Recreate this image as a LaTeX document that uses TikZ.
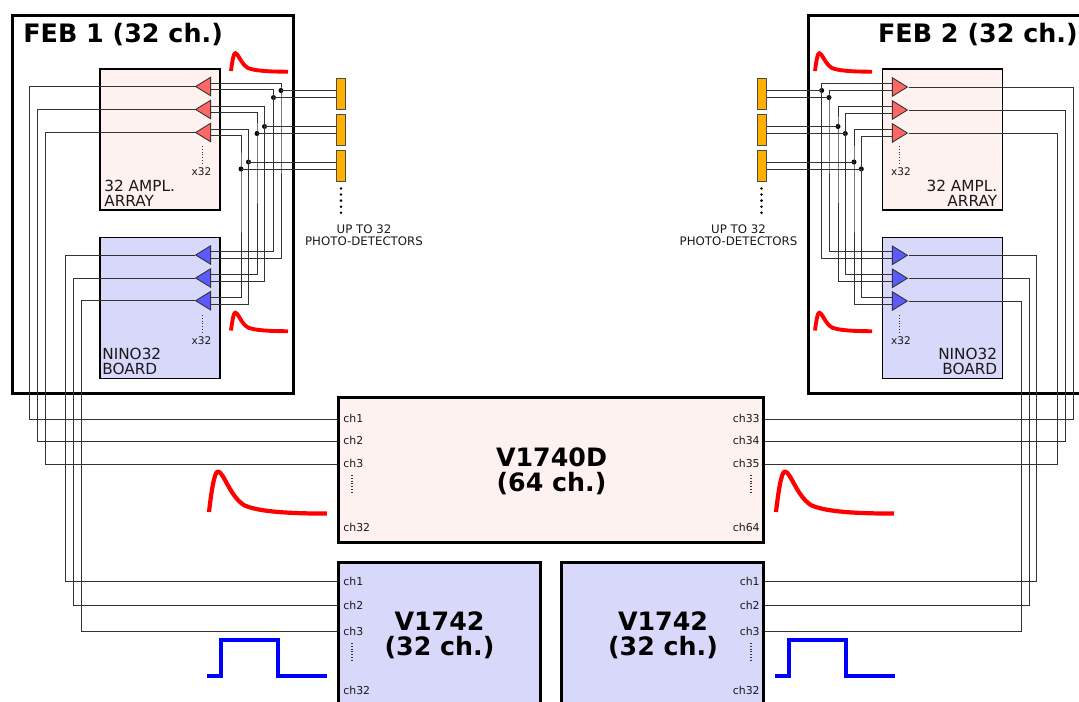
\documentclass[tikz,border=0pt]{standalone}
\usepackage{fontspec}
\setmainfont{DejaVu Sans}
\usepackage{xcolor}
\usetikzlibrary{positioning, shapes.geometric, calc}
\definecolor{ampfill}{HTML}{FDF2F0}
\definecolor{ninofill}{HTML}{D8D8FA}
\definecolor{ampred}{HTML}{FF6666}
\definecolor{ampblue}{HTML}{5A5AFF}
\definecolor{detorange}{HTML}{FFB000}
\tikzset{
  febbox/.style={draw=black, line width=1.7pt, inner sep=0pt, minimum width=#1},
  boardbox/.style={draw=black, line width=0.8pt, inner sep=0pt, minimum width=2.4cm, minimum height=2.82cm},
  digibox/.style={draw=black, line width=1.7pt, inner sep=0pt},
  amptri/.style={isosceles triangle, isosceles triangle stretches, draw=black!80, line width=0.5pt,
    inner sep=0pt, minimum width=0.37cm, minimum height=0.3cm, anchor=apex},
  detbox/.style={draw=black!70, fill=detorange, line width=0.5pt, inner sep=0pt, minimum width=0.19cm, minimum height=0.62cm},
  wire/.style={draw=black!80, line width=0.55pt},
  joint/.style={circle, fill=black, inner sep=0pt, minimum size=0.1cm},
  febtext/.style={font=\fontsize{14.45}{15}\selectfont\bfseries, inner sep=0pt},
  digitext/.style={font=\fontsize{14.4}{14.2}\selectfont\bfseries, align=center, inner sep=0pt},
  boardtext/.style={font=\fontsize{8.7}{8.6}\selectfont, inner sep=0pt, text=black!90},
  smalltext/.style={font=\fontsize{6}{6.5}\selectfont, inner sep=0pt, text=black!90},
  chtext/.style={font=\fontsize{6.2}{6}\selectfont, inner sep=0pt, text=black!90},
  updots/.style={black!80, line width=0.6pt, dash pattern=on 0.6pt off 1pt},
  detdots/.style={black, line width=1.6pt, line cap=round, dash pattern=on 0pt off 3.45pt},
  redpulse/.style={draw=red, line width=#1, line join=round},
  bluepulse/.style={draw=blue, line width=2.2pt}
}
\newcommand{\pulsepath}{(0,0) .. controls (1,-8) and (2.5,-18) .. (4.3,-18) .. controls (7,-18) and (10,-7) .. (17,-3) .. controls (23,-0.5) and (35,0.7) .. (57,0.7)}
\begin{document}
\begin{tikzpicture}[x=0.02cm, y=-0.02cm]
  \useasboundingbox (0,0) rectangle (1079,702);
  % front-end boards
  \node[febbox=5.64cm, minimum height=7.56cm] (FEBa) at (153,204.5) {};
  \node[febbox=5.8cm, minimum height=7.56cm] (FEBb) at (953,204.5) {};
  \node[febtext, anchor=west] (FEBatxt) at (23,34.5) {FEB 1 (32 ch.)};
  \node[febtext, anchor=east] (FEBbtxt) at (1078,34.5) {FEB 2 (32 ch.)};
  % amplifier and NINO boards
  \node[boardbox, fill=ampfill] (AMPa) at (160,139.5) {};
  \node[boardbox, fill=ninofill] (NINOa) at (160,308) {};
  \node[boardbox, fill=ampfill] (AMPb) at (942.3,139.5) {};
  \node[boardbox, fill=ninofill] (NINOb) at (942.3,308) {};
  % digitizers
  \node[digibox, fill=ampfill, minimum width=8.52cm, minimum height=2.92cm] (VA) at (551,470) {};
  \node[digibox, fill=ninofill, minimum width=4.06cm, minimum height=3.2cm] (VBa) at (439.5,642) {};
  \node[digibox, fill=ninofill, minimum width=4.06cm, minimum height=3.2cm] (VBb) at (662.5,642) {};
  \node[digitext] (VAtxt) at (551.5,471) {V1740D\\(64 ch.)};
  \node[digitext] (VBatxt) at (439.5,635) {V1742\\(32 ch.)};
  \node[digitext] (VBbtxt) at (663,635) {V1742\\(32 ch.)};
  % left channels: n/amp y/nino y/amp x/nino x/V1740 y/V1742 y/upper x/lower x/det y
  \foreach \n/\ya/\yn/\xa/\xn/\yv/\yw/\xu/\xl/\yd in {
      1/86.5/255/29.5/65.5/419/581/281/273.5/94,
      2/109.5/278/37/73/441.5/605/264.5/257/130,
      3/132.5/300.7/45/81/464/631/248.5/241/165.5} {
    \node[detbox] (Da\n) at (340.8,\yd) {};
    \node[joint] (Ju\n) at (\xu,\yd-3.5) {};
    \node[joint] (Jl\n) at (\xl,\yd+3.5) {};
    \coordinate (Wa\n) at (\xa,\yv);
    \coordinate (Wn\n) at (\xn,\yw);
    \coordinate (Ca\n) at (VA.west |- Wa\n);
    \coordinate (Cn\n) at (VBa.west |- Wn\n);
    \draw[wire] (209.5,\ya-3.2) -| (Ju\n.center) |- (209.5,\yn+3.5);
    \draw[wire] (209.5,\ya+3.4) -| (Jl\n.center) |- (209.5,\yn-3.5);
    \draw[wire] (Ju\n.center) -- (Da\n.west |- Ju\n);
    \draw[wire] (Jl\n.center) -- (Da\n.west |- Jl\n);
    \node[amptri, fill=ampred, shape border rotate=180] (Aa\n) at (194.5,\ya) {};
    \node[amptri, fill=ampblue, shape border rotate=180] (Na\n) at (194.5,\yn) {};
    \draw[wire] (Aa\n.apex) -| (Wa\n) -- (Ca\n);
    \draw[wire] (Na\n.apex) -| (Wn\n) -- (Cn\n);
  }
  % right channels
  \foreach \n/\ya/\yn/\xa/\xn/\yv/\yw/\xu/\xl/\yd in {
      1/87/255.3/1073.3/1036.7/419/581/821.7/829/94,
      2/110/278.3/1065.3/1029/441.7/605/838/845.3/130,
      3/133/301/1057.7/1021.3/464/631/854/861.3/165.5} {
    \node[detbox] (Db\n) at (761.7,\yd) {};
    \node[joint] (Ku\n) at (\xu,\yd-3.5) {};
    \node[joint] (Kl\n) at (\xl,\yd+3.5) {};
    \coordinate (Xa\n) at (\xa,\yv);
    \coordinate (Xn\n) at (\xn,\yw);
    \coordinate (Ea\n) at (VA.east |- Xa\n);
    \coordinate (En\n) at (VBb.east |- Xn\n);
    \draw[wire] (893.3,\ya-3.2) -| (Ku\n.center) |- (893.3,\yn+3.5);
    \draw[wire] (893.3,\ya+3.4) -| (Kl\n.center) |- (893.3,\yn-3.5);
    \draw[wire] (Ku\n.center) -- (Db\n.east |- Ku\n);
    \draw[wire] (Kl\n.center) -- (Db\n.east |- Kl\n);
    \node[amptri, fill=ampred] (Ab\n) at (908.5,\ya) {};
    \node[amptri, fill=ampblue] (Nb\n) at (908.5,\yn) {};
    \draw[wire] (Ab\n.apex) -| (Xa\n) -- (Ea\n);
    \draw[wire] (Nb\n.apex) -| (Xn\n) -- (En\n);
  }
  % board labels
  \node[boardtext, align=left, anchor=south west] (AMPatxt) at (104,206.5) {32 AMPL.\\ARRAY};
  \node[boardtext, align=left, anchor=south west] (NINOatxt) at (102,375.5) {NINO32\\BOARD};
  \node[boardtext, align=right, anchor=south east] (AMPbtxt) at (997.5,206.5) {32 AMPL.\\ARRAY};
  \node[boardtext, align=right, anchor=south east] (NINObtxt) at (997.5,375.5) {NINO32\\BOARD};
  \foreach \x/\ya/\yb/\nm in {201.5/171.5/340.5/a, 901/171.5/340.5/b} {
    \node[smalltext] (xamp\nm) at (\x,\ya) {x32};
    \node[smalltext] (xnino\nm) at (\x,\yb) {x32};
  }
  \draw[updots] (202.5,146) -- (202.5,163);
  \draw[updots] (202.5,315) -- (202.5,332);
  \draw[updots] (899.5,146) -- (899.5,163);
  \draw[updots] (899.5,315) -- (899.5,332);
  % detector notes
  \draw[detdots] (341,188.5) -- (341,214);
  \draw[detdots] (761.5,188.5) -- (761.5,214);
  \node[smalltext, font=\fontsize{6.7}{6.6}\selectfont, align=center] (UPa) at (364,235.5) {UP TO 32\\PHOTO-DETECTORS};
  \node[smalltext, font=\fontsize{6.7}{6.6}\selectfont, align=center] (UPb) at (738.5,235.5) {UP TO 32\\PHOTO-DETECTORS};
  % channel labels
  \foreach \t/\y/\nm in {ch1/418/a, ch2/440.5/b, ch3/463/c, ch32/527/d}
    \node[chtext, anchor=west] (VAl\nm) at (343,\y) {\t};
  \foreach \t/\y/\nm in {ch33/418/a, ch34/440.5/b, ch35/463/c, ch64/527/d}
    \node[chtext, anchor=east] (VAr\nm) at (760,\y) {\t};
  \foreach \t/\y/\nm in {ch1/581/a, ch2/605/b, ch3/631/c, ch32/690/d} {
    \node[chtext, anchor=west] (VBl\nm) at (343,\y) {\t};
    \node[chtext, anchor=east] (VBr\nm) at (760,\y) {\t};
  }
  \foreach \x/\ya/\yb in {352/475/492, 352/643/660, 751/475/492, 751/643/660}
    \draw[updots] (\x,\ya) -- (\x,\yb);
  % pulses
  \foreach \x/\y in {231/71, 231/330.5, 815/71, 815/330.5}
    \draw[redpulse=2.2pt, shift={(\x,\y)}] \pulsepath;
  \foreach \x in {209, 776}
    \draw[redpulse=2.4pt, shift={(\x,512)}, xscale=2.07, yscale=2.25] \pulsepath;
  \foreach \x in {207, 775}
    \draw[bluepulse, shift={(\x,676)}] (0,0) -- (14,0) -- (14,-36) -- (71,-36) -- (71,0) -- (120,0);
\end{tikzpicture}
\end{document}
